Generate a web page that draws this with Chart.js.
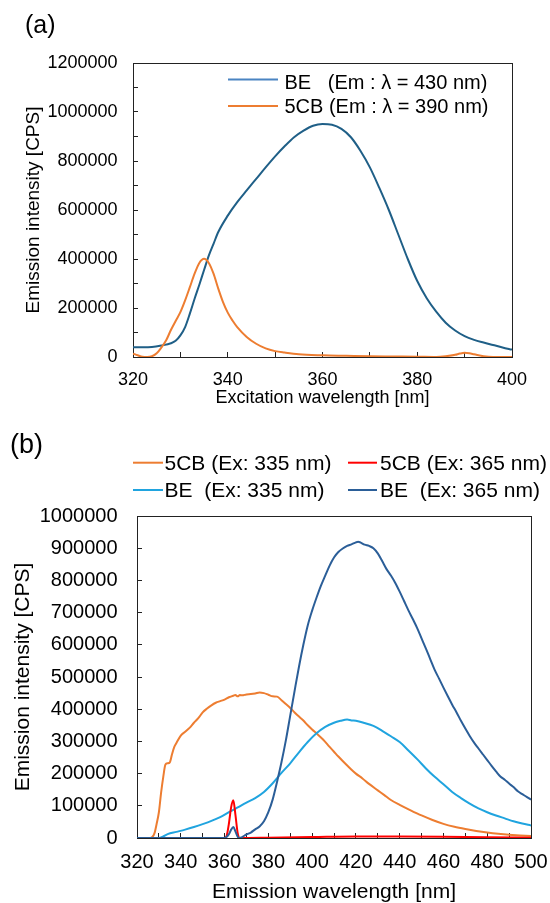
<!DOCTYPE html>
<html>
<head>
<meta charset="utf-8">
<title>BE / 5CB spectra</title>
<script src="https://cdn.jsdelivr.net/npm/chart.js@4.4.0/dist/chart.umd.min.js"></script>
<style>
  html, body { margin: 0; padding: 0; background: #fff; }
  #wrap { position: relative; width: 550px; height: 903px; }
  canvas { position: absolute; left: 0; }
  #chartA { top: 0; width: 550px; height: 420px; }
  #chartB { top: 420px; width: 550px; height: 483px; }
</style>
</head>
<body>
<div id="wrap">
  <canvas id="chartA" width="550" height="420"></canvas>
  <canvas id="chartB" width="550" height="483"></canvas>
</div>
<script>
// (a) excitation spectra
var beExX = [320,322,324,326,328,329,330,331,332,333,334,335,336,337,338,340,342,344,346,348,350,352,354,356,358,360,362,364,366,368,370,372,374,376,378,380,382,384,386,388,390,392,394,396,398,400];
var beExY = [40000,40000,41000,47000,56000,66000,88000,122000,177000,238000,295000,355000,414000,462000,510000,577000,632000,680000,727000,774000,819000,860000,897000,924000,944000,951000,948000,931000,897000,842000,774000,690000,600000,500000,400000,310000,240000,185000,140000,108000,85000,70000,59000,49000,39000,30000];
var cbExX = [320,321,322,323,324,325,326,327,328,329,330,331,332,333,334,335,336,337,338,339,340,341,342,344,346,348,350,352,355,360,365,370,375,380,384,386,388,389,390,391,392,394,396,400];
var cbExY = [14000,7000,1000,0,3000,15000,39000,68000,110000,147000,183000,231000,285000,340000,384000,401000,384000,340000,279000,224000,181000,149000,122000,82000,54000,35000,24000,18000,11000,7000,5000,3000,2000,1000,0,3000,9000,14000,17000,15000,11000,3000,0,0];

// (b) emission spectra
var cb335X = [320,326,327,328,329,330,331,332,333,334,335,336,337,338,340,342,344,346,348,350,352,354,356,358,360,362,364,365,366,367,368,370,372,374,376,378,380,382,384,386,388,390,392,394,396,398,400,402,405,408,410,412,415,418,420,423,426,430,433,436,440,445,450,455,460,465,470,475,480,485,490,495,500];
var cb335Y = [0,0,3000,15000,45000,80000,140000,190000,228000,232000,235000,260000,282000,295000,318000,330000,342000,358000,372000,390000,402000,412000,420000,425000,430000,437000,442000,444000,440000,444000,443000,446000,447000,449000,452000,450000,445000,440000,439000,428000,416000,404000,390000,377000,365000,350000,337000,325000,306000,283000,268000,253000,232000,212000,200000,185000,168000,148000,133000,118000,103000,86000,70000,56000,44000,35000,28000,22000,17000,13000,10000,8000,6000];
var cb365X = [320,360,361,362,363,364,365,366,367,380,400,420,440,460,480,500];
var cb365Y = [0,0,8000,45000,95000,117000,70000,15000,0,1000,3000,5000,5000,4000,2000,1000];
var be335X = [320,330,332,334,338,342,346,350,354,358,362,366,370,374,378,382,386,390,394,398,402,406,410,413,416,418,420,424,428,432,436,440,444,448,452,456,460,464,468,472,476,480,484,488,492,496,500];
var be335Y = [0,0,5000,12000,19000,26000,34000,43000,53000,65000,80000,95000,110000,124000,143000,170000,202000,232000,266000,298000,325000,345000,358000,364000,368000,365000,364000,357000,348000,333000,316000,298000,272000,245000,216000,190000,167000,143000,124000,107000,92000,80000,70000,61000,52000,45000,39000];
var be365X = [320,360,362,363,364,365,366,367,368,370,372,374,376,378,380,382,384,386,388,390,392,394,396,398,400,402,404,406,408,410,412,414,416,418,420,421,422,424,426,428,430,432,434,436,438,440,442,444,446,448,450,452,454,456,458,460,462,464,466,468,470,472,474,476,478,480,482,484,486,488,490,492,494,496,498,500];
var be365Y = [0,0,12000,26000,34000,20000,4000,0,3000,11000,17000,27000,36000,52000,80000,120000,175000,235000,303000,380000,457000,532000,600000,660000,706000,746000,783000,815000,846000,871000,888000,899000,907000,912000,918000,920000,918000,911000,907000,900000,884000,860000,835000,815000,792000,765000,736000,707000,680000,652000,620000,588000,555000,522000,495000,467000,440000,414000,390000,364000,340000,317000,296000,278000,260000,242000,224000,207000,191000,181000,169000,158000,145000,136000,128000,119000];

var FONT = "'Liberation Sans', Arial, sans-serif";

function pts(xs, ys) {
  return xs.map(function (x, i) { return { x: x, y: ys[i] }; });
}

function line(label, xs, ys, color, order, legendColor) {
  return {
    label: label,
    data: pts(xs, ys),
    borderColor: color,
    backgroundColor: color,
    legendColor: legendColor,
    borderWidth: 2,
    pointRadius: 0,
    fill: false,
    cubicInterpolationMode: 'monotone',
    order: order
  };
}

// frame round the plot, panel letter and the legend
function decor(cfg) {
  return {
    id: 'decor',
    beforeDatasetsDraw: function (chart) {
      var a = chart.chartArea, ctx = chart.ctx;
      ctx.save();
      ctx.strokeStyle = '#222';
      ctx.lineWidth = 1;
      ctx.strokeRect(Math.round(a.left) + 0.5, Math.round(a.top) + 0.5,
        Math.round(a.right - a.left), Math.round(a.bottom - a.top));
      ctx.restore();
    },
    afterDraw: function (chart) {
      var ctx = chart.ctx;
      ctx.save();
      ctx.fillStyle = '#000';
      ctx.font = cfg.tagFont;
      ctx.textBaseline = 'alphabetic';
      ctx.fillText(cfg.tag, cfg.tagX, cfg.tagY);
      ctx.font = cfg.legendFont;
      ctx.textBaseline = 'middle';
      cfg.legend.forEach(function (it) {
        var ds = chart.data.datasets[it.ds];
        ctx.strokeStyle = ds.legendColor || ds.borderColor;
        ctx.lineWidth = 2;
        ctx.beginPath();
        ctx.moveTo(it.x1, it.ly);
        ctx.lineTo(it.x2, it.ly);
        ctx.stroke();
        ctx.fillText(ds.label, it.tx, it.ty);
      });
      ctx.restore();
    }
  };
}

function axes(o) {
  return {
    x: {
      type: 'linear', min: o.xMin, max: o.xMax,
      afterFit: function (s) { s.height = o.xH; s.paddingLeft = 0; s.paddingRight = 0; },
      border: { display: true, color: '#222', width: 1 },
      grid: { drawOnChartArea: false, drawTicks: true, tickLength: -5, color: '#222' },
      ticks: {
        stepSize: 10, autoSkip: false, maxRotation: 0, color: '#000', padding: o.xPad,
        font: { family: FONT, size: o.xFont },
        callback: function (v) { return Math.round(v) % 20 === 0 ? String(v) : ''; }
      },
      title: {
        display: true, text: o.xTitle, color: '#000',
        font: { family: FONT, size: o.xTitleFont, lineHeight: o.xTitleLH },
        padding: { top: 0, bottom: o.xTitlePad }
      }
    },
    y: {
      type: 'linear', min: 0, max: o.yMax,
      afterFit: function (s) { s.width = o.yW; s.paddingTop = 0; s.paddingBottom = 0; },
      border: { display: true, color: '#222', width: 1 },
      grid: { drawOnChartArea: false, drawTicks: true, tickLength: -5, color: '#222' },
      ticks: {
        stepSize: 100000, autoSkip: false, color: '#000', padding: o.yPad,
        font: { family: FONT, size: o.yFont },
        callback: function (v) { return Math.round(v) % o.yLabelStep === 0 ? String(Math.round(v)) : ''; }
      },
      title: {
        display: true, text: 'Emission intensity [CPS]', color: '#000',
        font: { family: FONT, size: o.yTitleFont },
        padding: { top: o.yTitlePad, bottom: 0 }
      }
    }
  };
}

var common = {
  responsive: false,
  devicePixelRatio: 1,
  animation: false,
  events: [],
  plugins: { legend: { display: false }, tooltip: { enabled: false } }
};

new Chart(document.getElementById('chartA'), {
  type: 'line',
  data: {
    datasets: [
      line('5CB (Em : λ = 390 nm)', cbExX, cbExY, '#ed7d31', 0),
      line('BE   (Em : λ = 430 nm)', beExX, beExY, '#1f5f87', 1, '#4a84c2')
    ]
  },
  options: Object.assign({}, common, {
    layout: { padding: { left: 0, top: 63, right: 38, bottom: 0 } },
    scales: axes({
      xMin: 320, xMax: 400, xH: 63, xPad: 17, xFont: 18,
      xTitle: 'Excitation wavelength [nm]', xTitleFont: 18, xTitleLH: 1.2, xTitlePad: 11,
      yMax: 1200000, yW: 133, yPad: 20.5, yFont: 18, yLabelStep: 200000,
      yTitleFont: 19, yTitlePad: 22.5
    })
  }),
  plugins: [decor({
    tag: '(a)', tagFont: '25px ' + FONT, tagX: 25, tagY: 33,
    legendFont: '20px ' + FONT,
    legend: [
      { ds: 1, x1: 228, x2: 278, ly: 79.5, tx: 284.5, ty: 83 },
      { ds: 0, x1: 228, x2: 278, ly: 106, tx: 284.5, ty: 107.5 }
    ]
  })]
});

new Chart(document.getElementById('chartB'), {
  type: 'line',
  data: {
    datasets: [
      line('5CB (Ex: 335 nm)', cb335X, cb335Y, '#ed7d31', 3),
      line('5CB (Ex: 365 nm)', cb365X, cb365Y, '#ff0000', 1),
      line('BE  (Ex: 335 nm)', be335X, be335Y, '#20a4df', 2),
      line('BE  (Ex: 365 nm)', be365X, be365Y, '#2b5e98', 0)
    ]
  },
  options: Object.assign({}, common, {
    layout: { padding: { left: 0, top: 96, right: 19, bottom: 0 } },
    scales: axes({
      xMin: 320, xMax: 500, xH: 65, xPad: 17.5, xFont: 20,
      xTitle: 'Emission wavelength [nm]', xTitleFont: 21, xTitleLH: 1, xTitlePad: 0,
      yMax: 1000000, yW: 137, yPad: 24.5, yFont: 20, yLabelStep: 100000,
      yTitleFont: 21, yTitlePad: 10.5
    })
  }),
  plugins: [decor({
    tag: '(b)', tagFont: '27px ' + FONT, tagX: 10, tagY: 32.5,
    legendFont: '21px ' + FONT,
    legend: [
      { ds: 0, x1: 133, x2: 163, ly: 42.7, tx: 164.5, ty: 44 },
      { ds: 1, x1: 348, x2: 377, ly: 42.7, tx: 380, ty: 44 },
      { ds: 2, x1: 133, x2: 163, ly: 70, tx: 164.5, ty: 71 },
      { ds: 3, x1: 348, x2: 377, ly: 70, tx: 380, ty: 71 }
    ]
  })]
});
</script>
</body>
</html>
